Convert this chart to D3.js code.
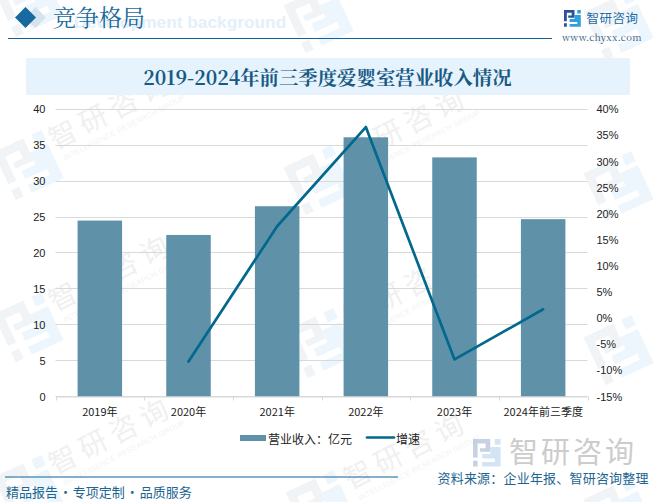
<!DOCTYPE html>
<html>
<head>
<meta charset="utf-8">
<script src="https://cdnjs.cloudflare.com/ajax/libs/d3/7.8.5/d3.min.js"></script>
<style>
html, body { margin: 0; padding: 0; background: #fff; }
svg { display: block; }
</style>
</head>
<body>
<svg id="chart"></svg>
<script>
const categories = ["2019年", "2020年", "2021年", "2022年", "2023年", "2024年前三季度"];
const revenue = [24.5, 22.5, 26.5, 36.1, 33.3, 24.7];
const growth = [null, -8.3, 17.6, 36.6, -7.9, 1.7];
const leftTicks = [0, 5, 10, 15, 20, 25, 30, 35, 40];
const rightTicks = [-15, -10, -5, 0, 5, 10, 15, 20, 25, 30, 35, 40];

const serif = "'Noto Serif CJK SC', 'Liberation Serif', 'Noto Sans CJK SC', serif";
const sans = "'Liberation Sans', 'Noto Sans CJK SC', sans-serif";
const cjk = "'Noto Sans CJK SC', sans-serif";

const svg = d3.select("#chart").attr("width", 656).attr("height", 502);

// company mark, drawn in a 24x24 box
function logoMark(g, s, dark, light) {
    const box = g.append("g").attr("transform", "scale(" + s + ")");
    box.append("path").attr("d", "M0 0H15V11H6V8H11V4H4V16H0ZM0 19H4V24H0Z").attr("fill", dark);
    box.append("path").attr("d", "M19 0H24V5H19ZM19 7H24V24H8V20H19V17H8V13H15V7Z").attr("fill", light);
}

// faint marks behind everything
const wmBack = svg.append("g");
[[28, 2], [318, 18], [618, 25], [28, 165], [318, 180], [618, 186], [28, 327], [320, 343], [618, 350], [28, 490], [320, 505], [618, 512]].forEach(d => {
    const g = wmBack.append("g").attr("transform", "translate(" + d[0] + "," + d[1] + ") rotate(-25) translate(-26,-26)");
    logoMark(g, 2.2, "#f1f4f7", "#edf6fc");
});
[[55, 150], [350, 165], [55, 312], [350, 328], [55, 475], [350, 490]].forEach(d => {
    const g = wmBack.append("g").attr("transform", "translate(" + d[0] + "," + d[1] + ") rotate(-27)");
    g.append("text").attr("font-family", cjk).attr("font-size", 28).attr("letter-spacing", 6).attr("fill", "#f0f0f0").text("智研咨询");
    g.append("text").attr("y", 14).attr("x", 4).attr("font-family", sans).attr("font-size", 7.5).attr("letter-spacing", 0.3).attr("fill", "#f3f3f3").text("INTELLIGENCE RESEARCH GROUP");
});

// header
svg.append("text").attr("x", 74).attr("y", 28).attr("font-family", sans).attr("font-weight", "bold")
    .attr("font-size", 17.3).attr("fill", "#e3f0fa").text("Development background");
svg.append("path").attr("d", "M35.5 7L46 17.5L35.5 28L25 17.5Z").attr("fill", "#d4e3ee");
svg.append("path").attr("d", "M25.5 7L36 17.5L25.5 28L15 17.5Z").attr("fill", "#17699f");
svg.append("text").attr("x", 53).attr("y", 26).attr("font-family", serif).attr("font-size", 23).attr("fill", "#1b6a9c").text("竞争格局");
svg.append("line").attr("x1", 8).attr("x2", 552).attr("y1", 38.5).attr("y2", 38.5).attr("stroke", "#10639a").attr("stroke-width", 1.2);

// top right logo
logoMark(svg.append("g").attr("transform", "translate(564,10)"), 0.7, "#2c4f9a", "#2f9fe0");
svg.append("text").attr("x", 586.5).attr("y", 22.5).attr("font-family", cjk).attr("font-size", 12.5).attr("letter-spacing", 0.5).attr("fill", "#1d6ba5").text("智研咨询");
svg.append("text").attr("x", 562).attr("y", 40.5).attr("font-family", serif).attr("font-size", 9.5).attr("letter-spacing", 0.3).attr("fill", "#2f5a84").text("www.chyxx.com");

// title band
svg.append("rect").attr("x", 26).attr("y", 58).attr("width", 604).attr("height", 37).attr("fill", "#e6f3fc");
svg.append("text").attr("x", 327.5).attr("y", 85).attr("text-anchor", "middle").attr("font-family", serif)
    .attr("font-weight", "bold").attr("font-size", 19.4).attr("fill", "#175a85").text("2019-2024年前三季度爱婴室营业收入情况");

// scales
const x = d3.scaleBand().domain(categories).range([55.5, 587.5]).padding(0);
const y = d3.scaleLinear().domain([0, 40]).range([396.5, 109.3]);
const y2 = d3.scaleLinear().domain([-15, 40]).range([396.5, 109.3]);
const barW = 44.5;

// gridlines
svg.append("g").selectAll("line").data(leftTicks).join("line")
    .attr("x1", 55.5).attr("x2", 587.5)
    .attr("y1", d => Math.floor(y(d)) + 0.5).attr("y2", d => Math.floor(y(d)) + 0.5)
    .attr("stroke", "#d9d9d9");

// bars
svg.append("g").selectAll("rect").data(revenue).join("rect")
    .attr("x", (d, i) => x(categories[i]) + x.bandwidth() / 2 - barW / 2)
    .attr("width", barW)
    .attr("y", d => y(d))
    .attr("height", d => y(0) - y(d))
    .attr("fill", "#5f92a9");

// x axis
const xAxis = svg.append("g").attr("transform", "translate(0,396.5)")
    .call(d3.axisBottom(x).tickSize(0).tickPadding(12));
xAxis.select(".domain").attr("stroke", "#d9d9d9");
xAxis.selectAll("text").attr("font-family", cjk).attr("font-size", 11).attr("fill", "#222");
xAxis.selectAll(".sep").data(d3.range(categories.length + 1)).join("line").attr("class", "sep")
    .attr("x1", i => Math.round(55.5 + i * x.bandwidth()) + 0.5).attr("x2", i => Math.round(55.5 + i * x.bandwidth()) + 0.5)
    .attr("y1", 0).attr("y2", 4).attr("stroke", "#d9d9d9");

// left axis
const yAxis = svg.append("g").attr("transform", "translate(55.5,0)")
    .call(d3.axisLeft(y).tickValues(leftTicks).tickSize(0).tickPadding(10));
yAxis.select(".domain").remove();
yAxis.selectAll("text").attr("font-family", sans).attr("font-size", 11).attr("fill", "#222");

// right axis
const yAxisR = svg.append("g").attr("transform", "translate(587.5,0)")
    .call(d3.axisRight(y2).tickValues(rightTicks).tickSize(0).tickPadding(9).tickFormat(d => d + "%"));
yAxisR.select(".domain").remove();
yAxisR.selectAll("text").attr("font-family", sans).attr("font-size", 11).attr("fill", "#222");

// growth line
const line = d3.line()
    .defined(d => d !== null)
    .x((d, i) => x(categories[i]) + x.bandwidth() / 2)
    .y(d => y2(d));
svg.append("path").datum(growth).attr("fill", "none").attr("stroke", "#02688d")
    .attr("stroke-width", 2.7).attr("stroke-linejoin", "round").attr("stroke-linecap", "round").attr("d", line);

// legend
svg.append("rect").attr("x", 240).attr("y", 435).attr("width", 26).attr("height", 6).attr("fill", "#5f92a9");
svg.append("text").attr("x", 268).attr("y", 443.5).attr("font-family", cjk).attr("font-size", 12).attr("fill", "#222").text("营业收入：亿元");
svg.append("line").attr("x1", 367).attr("x2", 394).attr("y1", 437.5).attr("y2", 437.5).attr("stroke", "#02688d").attr("stroke-width", 2.7).attr("stroke-linecap", "round");
svg.append("text").attr("x", 396).attr("y", 443.5).attr("font-family", cjk).attr("font-size", 12).attr("fill", "#222").text("增速");

// bottom logo
const botLogo = svg.append("g").attr("transform", "translate(473,439)").attr("opacity", 0.5);
logoMark(botLogo, 1.15, "#8ea6c9", "#a9cdec");
svg.append("text").attr("x", 509).attr("y", 463).attr("font-family", cjk).attr("font-size", 29).attr("letter-spacing", 3).attr("fill", "#cccccc").text("智研咨询");

// footer
svg.append("line").attr("x1", 5).attr("x2", 398).attr("y1", 477).attr("y2", 477).attr("stroke", "#10639a").attr("stroke-width", 1.2);
svg.append("text").attr("x", 6).attr("y", 497).attr("font-family", cjk).attr("font-size", 13).attr("word-spacing", -2).attr("fill", "#1d6591").text("精品报告 · 专项定制 · 品质服务");
svg.append("text").attr("x", 437.5).attr("y", 483).attr("font-family", cjk).attr("font-size", 13).attr("letter-spacing", 0.2).attr("fill", "#1d6591").text("资料来源：企业年报、智研咨询整理");
</script>
</body>
</html>
